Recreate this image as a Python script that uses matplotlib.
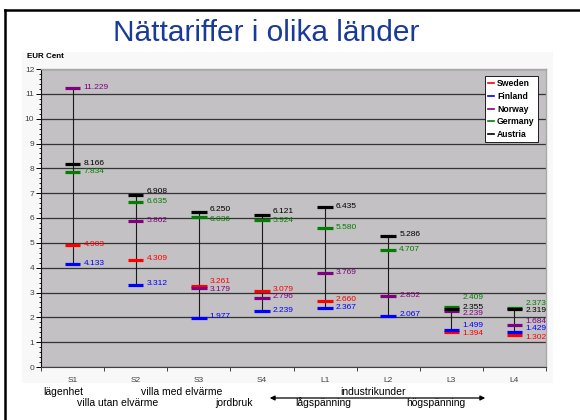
import numpy as np
import matplotlib
matplotlib.use('Agg')
import matplotlib.pyplot as plt
from matplotlib.lines import Line2D
from matplotlib.patches import Rectangle, FancyArrowPatch

plt.rcParams['font.family'] = ['Liberation Sans', 'DejaVu Sans']

# Data (EUR Cent)
kategorier = ['S1', 'S2', 'S3', 'S4', 'L1', 'L2', 'L3', 'L4']
lander = ['Sweden', 'Finland', 'Norway', 'Germany', 'Austria']
sweden = [4.903, 4.309, 3.261, 3.079, 2.660, np.nan, 1.394, 1.302]
finland = [4.133, 3.312, 1.977, 2.239, 2.367, 2.067, 1.499, 1.429]
norway = [11.229, 5.862, 3.179, 2.796, 3.769, 2.852, 2.239, 1.684]
germany = [7.834, 6.635, 6.036, 5.924, 5.580, 4.707, 2.409, 2.373]
austria = [8.166, 6.908, 6.250, 6.121, 6.435, 5.286, 2.355, 2.319]

farger = ['#FF0000', '#0000FF', '#800080', '#008000', '#000000']
serier = [sweden, finland, norway, germany, austria]

# manuella förskjutningar av etiketter (pixlar uppåt)
etikett_dy = {('S3', 'Sweden'): 5, ('S3', 'Norway'): -1, ('S3', 'Austria'): 2.5,
              ('S3', 'Germany'): -2, ('S4', 'Austria'): 3, ('S4', 'Germany'): -1,
              ('S2', 'Austria'): 3.5,
              ('L3', 'Germany'): 10, ('L3', 'Norway'): -2.5, ('L3', 'Finland'): 4,
              ('L3', 'Sweden'): -1.5,
              ('L4', 'Germany'): 5, ('L4', 'Austria'): -1.5, ('L4', 'Norway'): 4,
              ('L4', 'Finland'): 3, ('L4', 'Sweden'): -3}

fig = plt.figure(figsize=(5.8, 4.2), dpi=100)
W, H = 580, 420

# bakgrund för diagramytan
fig.add_artist(Rectangle((22 / W, 1 - 383 / H), (553 - 22) / W, (383 - 52) / H,
                         transform=fig.transFigure, facecolor='#F8F8F8', edgecolor='none', zorder=0))

ax = fig.add_axes([41 / W, 1 - 367 / H, (546 - 41) / W, (367 - 69) / H])
ax.set_facecolor('#C3C1C3')

x = np.arange(len(kategorier))
data = np.array(serier, dtype=float)

# vertikala linjer min-max
ax.vlines(x, np.nanmin(data, axis=0), np.nanmax(data, axis=0), color='#1a1a1a', lw=0.8, zorder=2)

hw = 0.122
for land, vals, c in zip(lander, serier, farger):
    for i, v in enumerate(vals):
        if np.isnan(v):
            continue
        ax.hlines(v, i - hw, i + hw, color=c, lw=2.3, zorder=3)
        dy = etikett_dy.get((kategorier[i], land), 1)
        ax.annotate(f'{v:.3f}', xy=(i, v), xytext=(11, dy), textcoords='offset pixels',
                    ha='left', va='center', fontsize=6, color=c, zorder=4)

ax.set_xlim(-0.5, 7.5)
ax.set_ylim(0, 12)
ax.set_yticks(range(0, 13))
ax.set_yticks(np.arange(0, 12.01, 0.2), minor=True)
ax.yaxis.grid(True, color='#333333', lw=0.9)
ax.set_axisbelow(True)
ax.tick_params(axis='y', which='major', length=3.6, width=0.7, pad=1.2, labelsize=6, labelcolor='#404040')
ax.tick_params(axis='y', which='minor', length=1.8, width=0.6)

ax.set_xticks(np.arange(-0.5, 8, 1))
ax.set_xticklabels([])
ax.set_xticks(x, minor=True)
ax.set_xticklabels(kategorier, minor=True)
ax.tick_params(axis='x', which='major', length=3, width=0.7, color='#404040')
ax.tick_params(axis='x', which='minor', length=0, pad=7, labelsize=6, labelcolor='#404040')

for s in ['top', 'right']:
    ax.spines[s].set_color('#A8A8A8')
    ax.spines[s].set_linewidth(1)
ax.spines['left'].set_color('#101010')
ax.spines['left'].set_linewidth(0.8)
ax.spines['bottom'].set_color('#404040')
ax.spines['bottom'].set_linewidth(0.8)

handles = [Line2D([0], [0], color=c, lw=1.2) for c in farger]
leg = ax.legend(handles, lander, loc='upper left', bbox_to_anchor=(485 / W, 1 - 76 / H),
                bbox_transform=fig.transFigure, fancybox=False, framealpha=1,
                edgecolor='black', prop={'size': 6.2, 'weight': 'bold'},
                handlelength=0.7, handletextpad=0.3, labelspacing=0.42,
                borderpad=0.4, borderaxespad=0)
leg.get_frame().set_linewidth(0.6)

# titel och y-enhet
fig.text(266 / W, 1 - 33 / H, 'Nättariffer i olika länder', ha='center', va='center',
         fontsize=21.5, color='#1A3A99')
fig.text(27 / W, 1 - 57 / H, 'EUR Cent', ha='left', va='center', fontsize=5.8, fontweight='bold')

# kundkategorier under axeln
texter = [('lägenhet', 63, 392), ('villa utan elvärme', 118, 403), ('villa med elvärme', 182, 392),
          ('jordbruk', 234, 403), ('industrikunder', 373, 392), ('lågspänning', 323, 403),
          ('högspänning', 436, 403)]
for t, tx, ty in texter:
    fig.text(tx / W, 1 - ty / H, t, ha='center', va='center', fontsize=7.5)

fig.add_artist(FancyArrowPatch((267 / W, 1 - 398 / H), (488 / W, 1 - 398 / H),
                               transform=fig.transFigure, arrowstyle='<|-|>',
                               mutation_scale=7, color='black', lw=0.9))

# ram från bilden
fig.add_artist(Line2D([5 / W, 1], [1 - 10 / H, 1 - 10 / H], color='black', lw=1.8, transform=fig.transFigure))
fig.add_artist(Line2D([5 / W, 5 / W], [0, 1 - 10 / H], color='black', lw=1.8, transform=fig.transFigure))

fig.savefig('out.png', dpi=100)
